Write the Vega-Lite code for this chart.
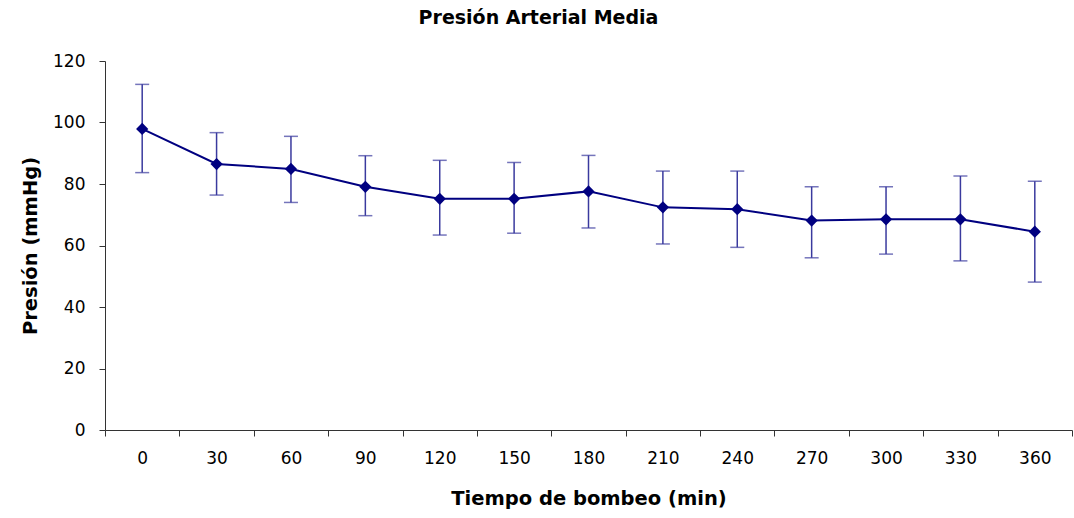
{
  "$schema": "https://vega.github.io/schema/vega-lite/v6.json",
  "autosize": {"type": "none"},
  "width": 967,
  "height": 369,
  "padding": {"left": 105, "top": 61, "right": 2, "bottom": 88},
  "background": "white",
  "title": {
    "text": "Presión Arterial Media",
    "font": "DejaVu Sans",
    "fontSize": 19,
    "fontWeight": "bold",
    "color": "black",
    "anchor": "middle",
    "dx": -50,
    "offset": 24
  },
  "data": {
    "values": [
      {"t": "0", "mean": 97.9, "low": 83.7, "high": 112.4},
      {"t": "30", "mean": 86.5, "low": 76.4, "high": 96.7},
      {"t": "60", "mean": 84.9, "low": 74.0, "high": 95.5},
      {"t": "90", "mean": 79.1, "low": 69.7, "high": 89.2},
      {"t": "120", "mean": 75.2, "low": 63.4, "high": 87.7},
      {"t": "150", "mean": 75.2, "low": 64.0, "high": 87.0},
      {"t": "180", "mean": 77.6, "low": 65.7, "high": 89.3},
      {"t": "210", "mean": 72.4, "low": 60.5, "high": 84.2},
      {"t": "240", "mean": 71.8, "low": 59.4, "high": 84.2},
      {"t": "270", "mean": 68.1, "low": 56.0, "high": 79.1},
      {"t": "300", "mean": 68.5, "low": 57.2, "high": 79.1},
      {"t": "330", "mean": 68.5, "low": 55.0, "high": 82.6},
      {"t": "360", "mean": 64.5, "low": 48.1, "high": 80.9}
    ]
  },
  "encoding": {
    "x": {
      "field": "t",
      "type": "ordinal",
      "sort": null,
      "scale": {"type": "band", "paddingInner": 0, "paddingOuter": 0},
      "axis": {
        "title": "Tiempo de bombeo (min)",
        "labelAngle": 0,
        "tickBand": "extent",
        "tickSize": 6,
        "tickColor": "#333333",
        "domainColor": "#333333",
        "labelFont": "DejaVu Sans",
        "labelFontSize": 17,
        "labelColor": "black",
        "labelPadding": 14,
        "titleFont": "DejaVu Sans",
        "titleFontSize": 19.5,
        "titleFontWeight": "bold",
        "titleColor": "black",
        "titlePadding": 23
      }
    }
  },
  "layer": [
    {
      "mark": {"type": "rule", "color": "#3a3a9e", "strokeWidth": 1.5},
      "encoding": {
        "y": {
          "field": "low",
          "type": "quantitative",
          "scale": {"domain": [0, 120], "nice": false},
          "axis": {
            "title": "Presión (mmHg)",
            "values": [0, 20, 40, 60, 80, 100, 120],
            "grid": false,
            "tickSize": 6,
            "tickColor": "#333333",
            "domainColor": "#333333",
            "labelFont": "DejaVu Sans",
            "labelFontSize": 17,
            "labelColor": "black",
            "labelPadding": 14,
            "titleFont": "DejaVu Sans",
            "titleFontSize": 19.5,
            "titleFontWeight": "bold",
            "titleColor": "black",
            "titlePadding": 12
          }
        },
        "y2": {"field": "high"}
      }
    },
    {
      "mark": {"type": "tick", "color": "#3a3a9e", "size": 14, "thickness": 1.5, "orient": "horizontal"},
      "encoding": {"y": {"field": "low", "type": "quantitative"}}
    },
    {
      "mark": {"type": "tick", "color": "#3a3a9e", "size": 14, "thickness": 1.5, "orient": "horizontal"},
      "encoding": {"y": {"field": "high", "type": "quantitative"}}
    },
    {
      "mark": {"type": "line", "color": "#000080", "strokeWidth": 2},
      "encoding": {"y": {"field": "mean", "type": "quantitative"}}
    },
    {
      "mark": {"type": "point", "shape": "diamond", "filled": true, "color": "#000080", "opacity": 1, "size": 150},
      "encoding": {"y": {"field": "mean", "type": "quantitative"}}
    }
  ],
  "config": {
    "view": {"stroke": null}
  }
}
